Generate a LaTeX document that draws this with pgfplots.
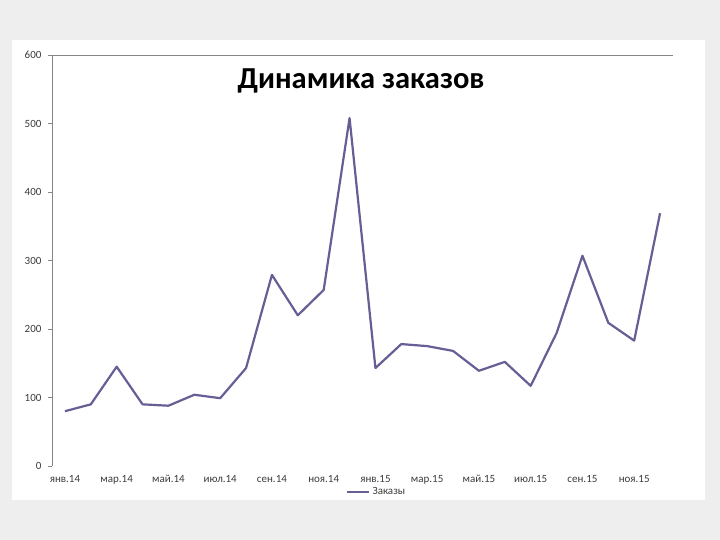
\documentclass[border=0pt]{standalone}
\usepackage{pgfplots}
\pgfplotsset{compat=1.18}
\usepackage{fontspec}
\setmainfont{Carlito}
\definecolor{bggray}{RGB}{238,238,238}
\definecolor{axisgray}{RGB}{134,134,134}
\definecolor{linepurple}{RGB}{104,94,150}
\definecolor{ticktext}{RGB}{60,60,60}
\begin{document}
\begin{tikzpicture}[x=1pt,y=1pt]
\fill[bggray] (0,0) rectangle (720,540);
\fill[white] (12,40) rectangle (705,500);
\node[font=\fontsize{30.5}{34}\selectfont\bfseries] at (361,459) {Динамика заказов};
\begin{axis}[
  at={(52pt,74pt)}, anchor=south west,
  scale only axis, width=621pt, height=411pt,
  xmin=-0.5, xmax=23.5, ymin=0, ymax=600,
  axis x line*=bottom, axis y line*=left,
  x axis line style={draw=none},
  y axis line style={-, draw=axisgray, line width=0.8pt},
  xtick={0,2,...,22},
  xticklabels={янв.14,мар.14,май.14,июл.14,сен.14,ноя.14,янв.15,мар.15,май.15,июл.15,сен.15,ноя.15},
  x tick style={draw=none},
  extra x ticks={1.5,3.5,...,21.5},
  extra x tick labels={},
  extra x tick style={tick style={draw=axisgray, line width=0.6pt}, major tick length=4pt, tick align=outside},
  ytick={0,100,...,600},
  y tick style={draw=axisgray, line width=0.6pt},
  major tick length=4pt, tick align=outside,
  ticklabel style={font=\fontsize{11}{12}\selectfont, text=ticktext},
  /pgf/number format/assume math mode=true,
  xticklabel style={yshift=-2pt},
  yticklabel style={xshift=-3pt},
  legend style={at={(0.523,-0.063)}, anchor=center, draw=none, fill=none,
    font=\fontsize{11}{12}\selectfont, text=ticktext,
    legend image code/.code={\draw[#1] (0pt,0pt) -- (22pt,0pt);}},
  clip=false,
]
\draw[axisgray, line width=0.8pt] (axis cs:-0.5,600) -- (axis cs:23.5,600);
\addplot[linepurple, line width=2.2pt, line join=round, mark=none] coordinates {
(0,80) (1,90) (2,145) (3,90) (4,88) (5,104) (6,99) (7,143)
(8,279) (9,220) (10,257) (11,508) (12,143) (13,178) (14,175) (15,168)
(16,139) (17,152) (18,117) (19,194) (20,307) (21,209) (22,183) (23,369)
};
\addlegendentry{Заказы}
\end{axis}
\end{tikzpicture}
\end{document}
